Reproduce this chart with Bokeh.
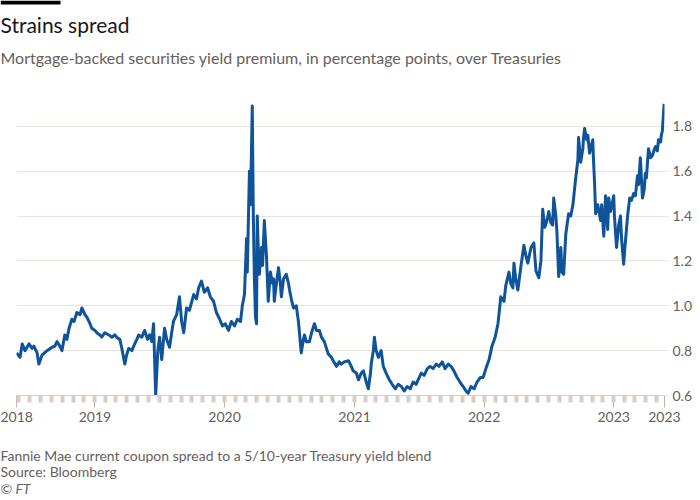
import pandas as pd
from bokeh.plotting import figure
from bokeh.layouts import column
from bokeh.models import (Range1d, FixedTicker, Label, BoxAnnotation, LinearAxis,
                          DatetimeAxis, ColumnDataSource)
from bokeh.embed import file_html
from bokeh.resources import INLINE

# ---------------- data ----------------
dates = [
    "2018-05-25", "2018-06-04", "2018-06-10", "2018-06-18", "2018-06-29", "2018-07-08", "2018-07-13",
    "2018-07-22", "2018-07-27", "2018-08-05", "2018-08-19", "2018-09-02", "2018-09-10", "2018-09-16",
    "2018-09-24", "2018-09-30", "2018-10-08", "2018-10-14", "2018-10-20", "2018-10-28", "2018-11-03",
    "2018-11-11", "2018-11-20", "2018-11-25", "2018-12-04", "2018-12-09", "2018-12-18", "2018-12-23",
    "2019-01-01", "2019-01-06", "2019-01-15", "2019-01-20", "2019-01-29", "2019-02-09", "2019-02-17",
    "2019-02-26", "2019-03-03", "2019-03-12", "2019-03-17", "2019-03-26", "2019-03-31", "2019-04-06",
    "2019-04-15", "2019-04-20", "2019-04-29", "2019-05-04", "2019-05-13", "2019-05-21", "2019-05-29",
    "2019-06-04", "2019-06-10", "2019-06-15", "2019-06-21", "2019-06-27", "2019-07-02", "2019-07-08",
    "2019-07-16", "2019-07-22", "2019-07-30", "2019-08-05", "2019-08-10", "2019-08-19", "2019-08-27",
    "2019-09-02", "2019-09-08", "2019-09-16", "2019-09-24", "2019-10-06", "2019-10-14", "2019-10-20",
    "2019-10-28", "2019-11-05", "2019-11-14", "2019-11-22", "2019-12-01", "2019-12-09", "2019-12-18",
    "2019-12-26",
    "2020-01-03", "2020-01-12", "2020-01-20", "2020-01-29", "2020-02-06", "2020-02-15", "2020-02-20",
    "2020-02-26", "2020-03-03", "2020-03-05", "2020-03-11", "2020-03-14", "2020-03-19", "2020-03-22",
    "2020-03-25", "2020-03-28", "2020-03-31", "2020-04-02", "2020-04-05", "2020-04-08", "2020-04-14",
    "2020-04-17", "2020-04-22", "2020-04-28", "2020-05-03", "2020-05-09", "2020-05-15", "2020-05-18",
    "2020-05-20", "2020-05-26", "2020-06-01", "2020-06-06", "2020-06-09", "2020-06-15", "2020-06-23",
    "2020-06-29", "2020-07-02", "2020-07-07", "2020-07-13", "2020-07-21", "2020-07-27", "2020-08-04",
    "2020-08-10", "2020-08-13", "2020-08-18", "2020-08-27", "2020-09-02", "2020-09-10", "2020-09-16",
    "2020-09-24", "2020-09-30", "2020-10-08", "2020-10-14", "2020-10-19", "2020-10-28", "2020-11-02",
    "2020-11-11", "2020-11-19", "2020-11-25", "2020-12-03", "2020-12-15", "2020-12-23", "2020-12-28",
    "2021-01-06", "2021-01-12", "2021-01-20", "2021-01-26", "2021-02-03", "2021-02-09", "2021-02-15",
    "2021-02-17", "2021-02-23", "2021-02-26", "2021-03-03", "2021-03-09", "2021-03-17", "2021-03-23",
    "2021-03-31", "2021-04-09", "2021-04-17", "2021-04-26", "2021-05-04", "2021-05-13", "2021-05-21",
    "2021-05-29", "2021-06-07", "2021-06-15", "2021-06-24", "2021-06-29", "2021-07-08", "2021-07-16",
    "2021-07-25", "2021-08-02", "2021-08-10", "2021-08-19", "2021-08-27", "2021-09-05", "2021-09-13",
    "2021-09-22", "2021-09-30", "2021-10-08", "2021-10-17", "2021-10-25", "2021-11-03", "2021-11-11",
    "2021-11-17", "2021-11-25", "2021-12-04", "2021-12-12", "2021-12-21", "2021-12-29",
    "2022-01-06", "2022-01-15", "2022-01-23", "2022-02-01", "2022-02-09", "2022-02-17", "2022-02-26",
    "2022-03-03", "2022-03-12", "2022-03-17", "2022-03-23", "2022-03-26", "2022-03-31", "2022-04-06",
    "2022-04-15", "2022-04-23", "2022-04-29", "2022-05-04", "2022-05-13", "2022-05-21", "2022-05-27",
    "2022-06-04", "2022-06-10", "2022-06-15", "2022-06-21", "2022-06-27", "2022-07-02", "2022-07-08",
    "2022-07-13", "2022-07-16", "2022-07-22", "2022-07-25", "2022-07-30", "2022-08-05", "2022-08-08",
    "2022-08-13", "2022-08-19", "2022-08-27", "2022-09-02", "2022-09-08", "2022-09-16", "2022-09-22",
    "2022-09-24", "2022-09-30", "2022-10-06", "2022-10-08", "2022-10-11", "2022-10-17", "2022-10-20",
    "2022-10-25", "2022-11-03", "2022-11-05", "2022-11-08", "2022-11-11", "2022-11-17", "2022-11-25",
    "2022-11-28", "2022-12-04", "2022-12-09", "2022-12-15", "2022-12-18", "2022-12-23",
    "2023-01-01", "2023-01-03", "2023-01-09", "2023-01-15", "2023-01-20", "2023-01-23", "2023-01-29",
    "2023-02-01", "2023-02-09", "2023-02-15", "2023-02-20", "2023-02-26", "2023-03-03", "2023-03-09",
    "2023-03-12", "2023-03-17", "2023-03-23", "2023-03-28", "2023-03-31", "2023-04-03", "2023-04-09",
    "2023-04-15", "2023-04-20", "2023-04-26", "2023-04-29", "2023-05-04", "2023-05-07", "2023-05-13",
    "2023-05-15", "2023-05-18", "2023-05-23",
]
spread = [
    0.79, 0.77, 0.83, 0.80, 0.83, 0.81, 0.82,
    0.79, 0.74, 0.78, 0.80, 0.815, 0.82, 0.84,
    0.82, 0.80, 0.87, 0.85, 0.90, 0.94, 0.93,
    0.97, 0.96, 0.99, 0.96, 0.95, 0.92, 0.90,
    0.89, 0.88, 0.87, 0.86, 0.88, 0.87, 0.86,
    0.87, 0.86, 0.85, 0.815, 0.74, 0.78, 0.81,
    0.80, 0.82, 0.85, 0.87, 0.86, 0.89, 0.85,
    0.87, 0.84, 0.92, 0.60, 0.80, 0.86, 0.76,
    0.90, 0.85, 0.815, 0.88, 0.93, 0.96, 1.04,
    0.93, 0.88, 0.99, 0.98, 1.05, 1.03, 1.08,
    1.11, 1.06, 1.08, 1.04, 1.02, 0.97, 0.94,
    0.91,
    0.92, 0.89, 0.93, 0.91, 0.94, 0.93, 1.00,
    1.05, 1.30, 1.15, 1.60, 1.45, 1.89, 1.40,
    1.12, 0.95, 0.92, 1.40, 1.25, 1.14, 1.26,
    1.18, 1.38, 1.22, 1.02, 1.15, 1.10, 1.12,
    1.02, 1.10, 1.17, 1.10, 1.04, 1.12, 1.14,
    1.10, 1.07, 1.03, 0.99, 1.00, 0.93, 0.79,
    0.85, 0.87, 0.84, 0.84, 0.88, 0.92, 0.89,
    0.89, 0.86, 0.84, 0.81, 0.785, 0.77, 0.755,
    0.73, 0.75, 0.74, 0.75, 0.755, 0.73, 0.71,
    0.70, 0.67, 0.70, 0.71, 0.66, 0.63, 0.70,
    0.74, 0.80, 0.86, 0.80, 0.77, 0.80, 0.73,
    0.70, 0.67, 0.65, 0.63, 0.65, 0.64, 0.62,
    0.64, 0.63, 0.66, 0.65, 0.67, 0.70, 0.69,
    0.72, 0.73, 0.72, 0.74, 0.73, 0.75, 0.72,
    0.74, 0.73, 0.71, 0.68, 0.66, 0.64, 0.62,
    0.61, 0.64, 0.63, 0.66, 0.68, 0.68,
    0.72, 0.76, 0.82, 0.86, 0.92, 1.04, 1.02,
    1.09, 1.15, 1.10, 1.08, 1.19, 1.12, 1.07,
    1.18, 1.27, 1.22, 1.19, 1.26, 1.28, 1.155,
    1.125, 1.20, 1.43, 1.35, 1.38, 1.42, 1.37,
    1.36, 1.48, 1.40, 1.33, 1.13, 1.26, 1.15,
    1.14, 1.32, 1.41, 1.40, 1.45, 1.57, 1.65,
    1.75, 1.64, 1.70, 1.75, 1.79, 1.74, 1.76,
    1.68, 1.74, 1.65, 1.55, 1.41, 1.45, 1.38,
    1.45, 1.31, 1.49, 1.34, 1.48, 1.42,
    1.49, 1.40, 1.26, 1.36, 1.40, 1.30, 1.185,
    1.25, 1.40, 1.48, 1.47, 1.50, 1.49, 1.58,
    1.54, 1.66, 1.48, 1.52, 1.59, 1.57, 1.70,
    1.66, 1.67, 1.70, 1.71, 1.69, 1.74, 1.73,
    1.76, 1.78, 1.90,
]
x_start = "2018-05-25"
x_end = "2023-05-24"
x_tick_dates = ["2018-05-25", "2019-01-01", "2020-01-01", "2021-01-01", "2022-01-01", "2023-01-01", "2023-05-24"]
x_tick_labels = ["2018", "2019", "2020", "2021", "2022", "2023", "2023"]
y_ticks = [0.6, 0.8, 1.0, 1.2, 1.4, 1.6, 1.8]

title_text = "Strains spread"
subtitle_text = "Mortgage-backed securities yield premium, in percentage points, over Treasuries"
note_text = "Fannie Mae current coupon spread to a 5/10-year Treasury yield blend"
source_text = "Source: Bloomberg"
credit_text = "\u00a9 FT"

# ---------------- styling / layout ----------------
FONT = "Lato"
W = 700
HEAD_H, CHART_H, FOOT_H = 86, 344, 69
LEFT, RIGHT, TOP, BOTTOM = 16, 664, 14, 309   # chart frame edges inside the chart figure
BLUE = "#0f5499"
GRID = "#ece3dc"
MUTED = "#66605c"
INK = "#1a1817"


def text_panel(height):
    """A figure whose frame fills it; y runs downwards in pixels."""
    f = figure(width=W, height=height, output_backend="svg", toolbar_location=None,
               title=None, x_axis_type=None, y_axis_type=None,
               x_range=Range1d(0, W), y_range=Range1d(height, 0),
               min_border=0, min_border_left=0, min_border_right=0,
               min_border_top=0, min_border_bottom=0, frame_align=False)
    f.outline_line_color = None
    f.background_fill_color = "white"
    f.border_fill_color = "white"
    return f


def add_text(f, txt, y_mid, size, color, style="normal"):
    f.add_layout(Label(x=0, y=y_mid, text=txt, text_font=FONT, text_font_size=size,
                       text_color=color, text_font_style=style,
                       text_baseline="middle", text_align="left"))


# header
head = text_panel(HEAD_H)
head.add_layout(BoxAnnotation(left=0, right=60, top=0, bottom=4,
                              fill_color="black", fill_alpha=1, line_color=None))
add_text(head, title_text, 24, "21px", INK)
add_text(head, subtitle_text, 57, "16px", MUTED)

# chart
def ms(d):
    return pd.Timestamp(d).value / 1e6

src = ColumnDataSource(dict(date=pd.to_datetime(dates), spread=spread))

p = figure(width=W, height=CHART_H, output_backend="svg", toolbar_location=None,
           title=None, x_axis_type=None, y_axis_location=None, frame_align=False,
           x_range=Range1d(pd.Timestamp(x_start), pd.Timestamp(x_end)),
           y_range=Range1d(0.6, 1.915),
           min_border_left=LEFT, min_border_right=W - RIGHT,
           min_border_top=TOP, min_border_bottom=CHART_H - BOTTOM)
p.outline_line_color = None
p.background_fill_color = "white"
p.border_fill_color = "white"

month_marks = [ms(d) for d in pd.date_range("2018-06-01", "2023-05-01", freq="MS")]
xt = [ms(d) for d in x_tick_dates]
xaxis = DatetimeAxis(ticker=FixedTicker(ticks=xt, minor_ticks=month_marks))
xaxis.major_label_overrides = {t: l for t, l in zip(xt, x_tick_labels)}
xaxis.axis_line_color = "#d9d0c8"
xaxis.major_tick_line_color = "#bdb3aa"
xaxis.major_tick_in = 0
xaxis.major_tick_out = 12
xaxis.minor_tick_line_color = "#d8cec5"
xaxis.minor_tick_line_width = 4
xaxis.minor_tick_in = 0
xaxis.minor_tick_out = 7
xaxis.major_label_text_font = FONT
xaxis.major_label_text_font_size = "14px"
xaxis.major_label_text_color = MUTED
xaxis.major_label_standoff = 4
p.add_layout(xaxis, "below")

yaxis = LinearAxis(ticker=FixedTicker(ticks=y_ticks))
yaxis.major_label_overrides = {t: f"{t:.1f}" for t in y_ticks}
yaxis.axis_line_color = None
yaxis.major_tick_line_color = GRID
yaxis.major_tick_in = 0
yaxis.major_tick_out = 4
yaxis.minor_tick_line_color = None
yaxis.major_label_text_font = FONT
yaxis.major_label_text_font_size = "14px"
yaxis.major_label_text_color = MUTED
yaxis.major_label_standoff = 4
p.add_layout(yaxis, "right")

p.xgrid.visible = False
p.ygrid.ticker = FixedTicker(ticks=y_ticks[1:])
p.ygrid.grid_line_color = GRID

p.line("date", "spread", source=src, line_color=BLUE, line_width=3, line_join="round")

# footer (y positions relative to the footer's own top edge)
foot = text_panel(FOOT_H)
add_text(foot, note_text, 25, "14px", MUTED)
add_text(foot, source_text, 41, "14px", MUTED)
add_text(foot, credit_text, 58, "14px", MUTED, "italic")

layout = column(head, p, foot, spacing=0)
open("out.html", "w").write(file_html(layout, INLINE))
